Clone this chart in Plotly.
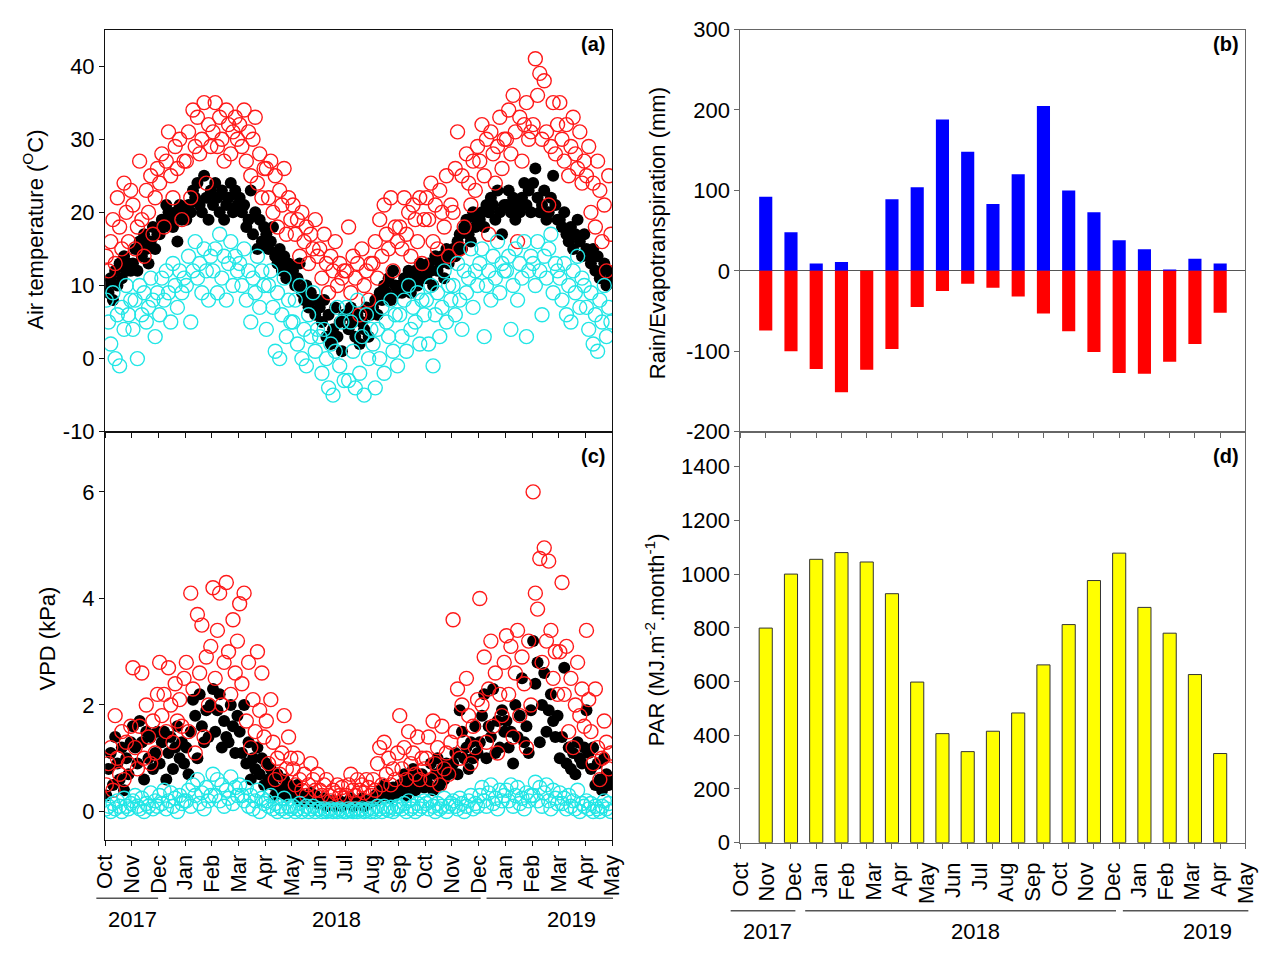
import plotly.graph_objects as go

W, H = 1278, 956
FONT = "Liberation Sans, Arial, sans-serif"

MONTHS = ["Oct", "Nov", "Dec", "Jan", "Feb", "Mar", "Apr", "May", "Jun", "Jul",
          "Aug", "Sep", "Oct", "Nov", "Dec", "Jan", "Feb", "Mar", "Apr", "May"]
YEARS = ["2017", "2018", "2019"]

# ---- Panel (a): air temperature (deg C), 12 readings per month, Oct 2017 .. Apr 2019
TMAX = [
    [14, 12, 16, 19, 13, 22, 18, 15, 24, 20, 16, 23],
    [21, 15, 18, 27, 19, 14, 23, 20, 25, 17, 22, 26],
    [24, 28, 18, 27, 31, 25, 22, 29, 26, 30, 19, 27],
    [27, 31, 22, 34, 29, 33, 28, 30, 35, 24, 32, 29],
    [31, 35, 29, 33, 30, 27, 34, 32, 28, 31, 33, 30],
    [32, 29, 34, 27, 31, 25, 30, 33, 24, 28, 22, 26],
    [26, 22, 27, 20, 25, 18, 23, 21, 26, 17, 22, 19],
    [21, 17, 19, 14, 20, 16, 18, 13, 17, 15, 19, 14],
    [15, 11, 17, 13, 9, 14, 12, 16, 10, 13, 11, 12],
    [12, 18, 9, 14, 11, 13, 6, 15, 10, 12, 8, 13],
    [13, 16, 11, 19, 14, 21, 17, 15, 22, 12, 18, 16],
    [18, 15, 22, 17, 20, 14, 21, 19, 16, 22, 13, 19],
    [22, 19, 24, 16, 21, 15, 23, 20, 18, 25, 14, 21],
    [20, 26, 31, 15, 25, 18, 28, 24, 21, 27, 23, 29],
    [27, 32, 25, 30, 17, 31, 28, 24, 29, 33, 26, 30],
    [30, 34, 28, 36, 31, 16, 33, 27, 32, 35, 30, 31],
    [32, 41, 36, 39, 30, 38, 31, 21, 29, 35, 28, 32],
    [35, 30, 27, 32, 25, 29, 33, 28, 26, 31, 24, 27],
    [25, 29, 20, 24, 18, 27, 23, 16, 21, 12, 25, 17],
]
TMEAN = [
    [10, 9, 11, 8, 12, 10, 13, 11, 14, 12, 13, 12],
    [13, 15, 12, 16, 14, 17, 15, 13, 16, 18, 15, 17],
    [17, 19, 18, 21, 20, 19, 18, 20, 16, 21, 19, 20],
    [19, 21, 20, 23, 22, 24, 21, 20, 25, 22, 19, 23],
    [21, 24, 22, 20, 23, 19, 21, 22, 24, 20, 23, 21],
    [22, 20, 21, 18, 19, 23, 17, 20, 15, 19, 16, 18],
    [17, 15, 16, 18, 14, 13, 15, 12, 14, 11, 13, 12],
    [12, 10, 11, 13, 9, 8, 10, 7, 9, 8, 6, 8],
    [7, 5, 8, 3, 6, 2, 4, 7, 3, 5, 1, 6],
    [6, 4, 7, 5, 3, 6, 2, 5, 4, 7, 3, 6],
    [7, 8, 6, 9, 8, 10, 9, 11, 8, 12, 10, 9],
    [10, 9, 11, 10, 12, 9, 11, 12, 10, 13, 11, 12],
    [11, 13, 12, 10, 14, 12, 13, 14, 11, 15, 13, 14],
    [15, 14, 16, 17, 15, 18, 19, 17, 16, 20, 18, 19],
    [19, 20, 18, 21, 20, 22, 21, 19, 23, 20, 17, 21],
    [21, 23, 20, 22, 19, 21, 20, 22, 24, 21, 23, 20],
    [24, 26, 22, 20, 21, 23, 19, 20, 22, 25, 21, 19],
    [19, 18, 20, 17, 16, 18, 15, 17, 19, 16, 14, 17],
    [15, 14, 13, 15, 12, 14, 11, 12, 13, 10, 12, 11],
]
TMIN = [
    [8, 5, 2, 9, 0, 6, -1, 7, 4, 10, 6, 8],
    [4, 8, 0, 10, 6, 9, 5, 7, 11, 8, 3, 9],
    [6, 11, 8, 12, 9, 5, 13, 10, 7, 12, 9, 11],
    [10, 14, 5, 12, 16, 11, 13, 9, 15, 12, 8, 14],
    [12, 15, 9, 17, 11, 14, 8, 13, 16, 10, 14, 12],
    [13, 10, 15, 8, 12, 5, 11, 9, 14, 7, 12, 10],
    [4, 10, 12, 7, 1, 9, 0, 6, 11, 3, 8, 5],
    [5, 8, 2, 10, 0, 4, -1, 6, 3, 9, 1, 4],
    [3, -2, 4, 0, -4, 2, -5, 1, 7, -1, 5, -3],
    [7, -3, 5, 1, -4, 8, -2, 3, -5, 6, 0, 4],
    [2, -4, 4, 0, 7, -2, 5, 3, 8, 1, 6, -1],
    [6, 3, 8, 1, 10, 4, 7, 5, 9, 2, 8, 6],
    [8, 2, 10, -1, 6, 9, 3, 7, 12, 5, 10, 8],
    [10, 6, 13, 8, 4, 12, 9, 11, 15, 7, 12, 10],
    [13, 15, 3, 10, 12, 8, 14, 11, 16, 9, 13, 12],
    [12, 14, 4, 10, 15, 8, 13, 11, 16, 3, 12, 14],
    [13, 10, 16, 12, 6, 14, 11, 15, 17, 9, 13, 12],
    [11, 8, 13, 6, 10, 5, 12, 9, 14, 7, 11, 10],
    [7, 4, 9, 2, 6, 1, 8, 5, 10, 3, 7, 5],
]

# ---- Panel (c): VPD (kPa), 12 readings per month
VPDMAX = [
    [0.5, 0.9, 1.2, 0.4, 1.8, 1.0, 0.7, 1.5, 0.6, 1.3, 0.9, 1.6],
    [2.7, 1.2, 0.8, 1.6, 2.6, 1.0, 2.0, 1.4, 0.9, 1.7, 1.1, 2.2],
    [2.8, 1.8, 2.2, 1.5, 2.7, 2.0, 1.3, 2.4, 1.7, 2.1, 1.6, 2.5],
    [2.8, 1.5, 4.1, 2.3, 1.1, 3.7, 2.6, 3.5, 1.4, 2.9, 2.0, 3.1],
    [4.2, 2.5, 3.4, 4.1, 2.0, 2.8, 4.3, 3.0, 2.2, 3.6, 2.6, 3.2],
    [3.9, 2.4, 4.1, 1.7, 2.8, 1.2, 2.1, 1.5, 3.0, 1.9, 2.6, 1.4],
    [1.7, 0.9, 2.1, 1.3, 0.6, 1.0, 0.7, 1.1, 1.8, 0.8, 1.4, 1.0],
    [0.8, 0.5, 1.0, 0.6, 0.4, 0.7, 0.3, 0.5, 0.9, 0.6, 0.4, 0.7],
    [0.4, 0.3, 0.5, 0.6, 0.3, 0.2, 0.4, 0.35, 0.5, 0.3, 0.45, 0.25],
    [0.3, 0.5, 0.7, 0.4, 0.3, 0.6, 0.4, 0.5, 0.35, 0.6, 0.45, 0.3],
    [0.6, 0.4, 0.9, 1.2, 0.5, 1.3, 0.7, 1.0, 0.5, 0.8, 0.6, 1.1],
    [1.8, 0.8, 1.2, 0.6, 1.5, 0.9, 1.1, 0.7, 1.4, 0.6, 1.0, 0.8],
    [1.0, 1.4, 0.6, 1.7, 0.9, 1.2, 0.5, 1.6, 0.8, 1.1, 0.7, 1.3],
    [3.6, 1.5, 2.3, 1.0, 2.0, 1.3, 2.5, 1.8, 0.9, 1.6, 1.2, 2.1],
    [4.0, 2.0, 2.9, 1.3, 2.3, 3.2, 1.6, 2.6, 1.1, 2.2, 1.8, 2.8],
    [3.3, 2.2, 3.1, 1.4, 2.6, 3.4, 1.8, 2.9, 2.4, 1.2, 3.2, 2.0],
    [6.0, 4.1, 3.8, 4.75, 2.8, 4.95, 3.2, 4.7, 3.4, 2.5, 3.0, 2.2],
    [3.0, 4.3, 2.2, 3.1, 1.5, 2.5, 1.2, 2.0, 2.8, 1.8, 2.3, 1.6],
    [3.4, 2.1, 1.5, 0.9, 2.3, 1.2, 0.6, 1.0, 1.7, 1.3, 0.8, 1.1],
]
VPDMEAN = [
    [0.3, 0.8, 1.1, 0.5, 1.4, 0.9, 0.6, 1.2, 0.4, 1.0, 0.7, 1.3],
    [1.6, 1.2, 0.9, 1.7, 1.3, 0.6, 1.5, 1.0, 1.4, 0.8, 1.1, 1.5],
    [0.9, 1.3, 1.5, 0.6, 1.1, 1.4, 0.8, 1.2, 1.6, 1.0, 1.3, 0.9],
    [1.2, 0.7, 1.5, 2.1, 1.8, 1.0, 2.2, 1.6, 1.3, 1.9, 1.4, 2.0],
    [2.3, 1.5, 1.9, 2.2, 1.2, 1.7, 1.4, 1.3, 2.0, 1.6, 1.1, 1.8],
    [1.5, 1.1, 2.0, 0.9, 1.3, 0.6, 1.0, 0.8, 1.2, 0.7, 1.0, 0.5],
    [0.9, 0.6, 0.8, 0.5, 0.3, 0.7, 0.4, 0.4, 0.6, 0.3, 0.5, 0.4],
    [0.4, 0.3, 0.5, 0.2, 0.3, 0.2, 0.25, 0.2, 0.35, 0.2, 0.3, 0.15],
    [0.2, 0.15, 0.25, 0.1, 0.2, 0.15, 0.2, 0.1, 0.15, 0.2, 0.1, 0.15],
    [0.15, 0.2, 0.25, 0.1, 0.2, 0.15, 0.2, 0.25, 0.1, 0.2, 0.15, 0.2],
    [0.2, 0.3, 0.25, 0.4, 0.3, 0.5, 0.35, 0.4, 0.25, 0.45, 0.3, 0.4],
    [0.5, 0.4, 0.7, 0.3, 0.6, 0.5, 0.8, 0.4, 0.6, 0.5, 0.7, 0.45],
    [0.6, 0.5, 0.9, 0.4, 0.7, 1.0, 0.5, 0.8, 0.6, 0.9, 0.7, 0.8],
    [0.9, 1.1, 0.7, 1.9, 1.5, 1.0, 1.2, 0.8, 1.3, 1.0, 1.6, 1.1],
    [1.3, 1.8, 2.2, 1.0, 1.6, 1.4, 2.3, 1.1, 1.7, 1.2, 1.9, 1.5],
    [1.7, 1.2, 1.5, 0.9, 2.0, 1.4, 1.8, 2.5, 1.3, 1.6, 1.1, 1.9],
    [3.2, 2.4, 2.8, 1.3, 2.0, 2.6, 1.5, 1.9, 2.2, 1.7, 1.4, 1.8],
    [1.0, 1.4, 2.7, 0.9, 1.2, 0.8, 1.1, 0.7, 1.3, 1.0, 0.9, 1.2],
    [1.9, 1.1, 0.8, 1.2, 0.5, 0.9, 0.6, 0.4, 1.0, 0.7, 0.5, 0.6],
]
VPDMIN = [
    [0.05, 0.1, 0.0, 0.15, 0.05, 0.2, 0.1, 0.0, 0.25, 0.1, 0.05, 0.15],
    [0.2, 0.3, 0.1, 0.05, 0.25, 0.0, 0.15, 0.1, 0.35, 0.05, 0.2, 0.1],
    [0.3, 0.15, 0.4, 0.05, 0.2, 0.35, 0.1, 0.25, 0.0, 0.3, 0.15, 0.2],
    [0.2, 0.4, 0.1, 0.5, 0.3, 0.6, 0.15, 0.35, 0.05, 0.45, 0.2, 0.3],
    [0.7, 0.3, 0.6, 0.2, 0.5, 0.1, 0.4, 0.25, 0.65, 0.15, 0.45, 0.3],
    [0.5, 0.3, 0.2, 0.45, 0.1, 0.3, 0.05, 0.2, 0.4, 0.0, 0.25, 0.15],
    [0.2, 0.1, 0.3, 0.05, 0.15, 0.0, 0.1, 0.05, 0.25, 0.0, 0.1, 0.05],
    [0.1, 0.0, 0.05, 0.15, 0.0, 0.05, 0.1, 0.0, 0.05, 0.1, 0.0, 0.05],
    [0.05, 0.0, 0.05, 0.0, 0.02, 0.05, 0.0, 0.03, 0.0, 0.05, 0.02, 0.0],
    [0.0, 0.05, 0.02, 0.0, 0.05, 0.0, 0.03, 0.05, 0.0, 0.02, 0.05, 0.0],
    [0.05, 0.0, 0.1, 0.05, 0.0, 0.1, 0.05, 0.02, 0.08, 0.0, 0.05, 0.1],
    [0.1, 0.05, 0.15, 0.0, 0.2, 0.05, 0.1, 0.0, 0.15, 0.05, 0.1, 0.2],
    [0.15, 0.05, 0.2, 0.1, 0.0, 0.15, 0.05, 0.1, 0.25, 0.0, 0.1, 0.15],
    [0.2, 0.1, 0.05, 0.25, 0.15, 0.0, 0.1, 0.2, 0.3, 0.05, 0.15, 0.1],
    [0.3, 0.45, 0.2, 0.1, 0.35, 0.5, 0.15, 0.25, 0.05, 0.4, 0.2, 0.3],
    [0.4, 0.2, 0.5, 0.1, 0.3, 0.45, 0.15, 0.25, 0.05, 0.35, 0.2, 0.3],
    [0.3, 0.55, 0.2, 0.45, 0.1, 0.35, 0.5, 0.2, 0.05, 0.4, 0.25, 0.15],
    [0.35, 0.15, 0.25, 0.05, 0.3, 0.1, 0.2, 0.05, 0.4, 0.0, 0.15, 0.1],
    [0.2, 0.05, 0.15, 0.0, 0.1, 0.05, 0.0, 0.1, 0.2, 0.05, 0.15, 0.0],
]

# ---- Panels (b) and (d): monthly bars, Nov 2017 .. May 2019 (positions 1..19)
BAR_POS = list(range(1, 20))
RAIN = [92, 48, 9, 11, 0, 89, 104, 188, 148, 83, 120, 205, 100, 73, 38, 27, 1, 15, 9]
ET = [-74, -100, -122, -151, -123, -97, -45, -25, -16, -21, -32, -53, -75, -101,
      -127, -128, -113, -91, -52]
PAR = [799, 1000, 1055, 1080, 1045, 927, 598, 406, 339, 415, 483, 662, 812, 976,
       1078, 876, 780, 626, 332]

# tick labels (hyphen minus, as in the original figure)
TA_VALS = [-10, 0, 10, 20, 30, 40]
TB_VALS = [-200, -100, 0, 100, 200, 300]
TC_VALS = [0, 2, 4, 6]
TD_VALS = [0, 200, 400, 600, 800, 1000, 1200, 1400]


def px(x):
    return x / W


def py(y):
    return 1 - y / H


def monthly_xy(monthly):
    xs, ys = [], []
    for m, vals in enumerate(monthly):
        n = len(vals)
        for k, v in enumerate(vals):
            xs.append(m + (k + 0.5) / n)
            ys.append(v)
    return xs, ys


RED = "#ff1a1a"
CYAN = "#22e6e6"

fig = go.Figure()


def add_scatter_panel(xa, ya, mean, mx, mn):
    x, y = monthly_xy(mean)
    fig.add_trace(go.Scatter(x=x, y=y, mode="markers", xaxis=xa, yaxis=ya,
                             marker=dict(symbol="circle", size=12, color="black"),
                             showlegend=False, hoverinfo="skip"))
    x, y = monthly_xy(mx)
    fig.add_trace(go.Scatter(x=x, y=y, mode="markers", xaxis=xa, yaxis=ya,
                             marker=dict(symbol="circle-open", size=14, color=RED,
                                         line=dict(width=1.4, color=RED)),
                             showlegend=False, hoverinfo="skip"))
    x, y = monthly_xy(mn)
    fig.add_trace(go.Scatter(x=x, y=y, mode="markers", xaxis=xa, yaxis=ya,
                             marker=dict(symbol="circle-open", size=14, color=CYAN,
                                         line=dict(width=1.4, color=CYAN)),
                             showlegend=False, hoverinfo="skip"))


add_scatter_panel("x", "y", TMEAN, TMAX, TMIN)
add_scatter_panel("x3", "y3", VPDMEAN, VPDMAX, VPDMIN)

fig.add_trace(go.Bar(x=BAR_POS, y=RAIN, xaxis="x2", yaxis="y2", width=0.52,
                     marker=dict(color="#0000ff", line=dict(width=0)),
                     showlegend=False, hoverinfo="skip"))
fig.add_trace(go.Bar(x=BAR_POS, y=ET, xaxis="x2", yaxis="y2", width=0.52,
                     marker=dict(color="#ff0000", line=dict(width=0)),
                     showlegend=False, hoverinfo="skip"))
fig.add_trace(go.Bar(x=BAR_POS, y=PAR, xaxis="x4", yaxis="y4", width=0.52,
                     marker=dict(color="#ffff00", line=dict(width=1, color="#333333")),
                     showlegend=False, hoverinfo="skip"))
# carrier for the month labels of panel (d)
fig.add_trace(go.Scatter(x=[None], y=[None], xaxis="x5", yaxis="y4",
                         showlegend=False, hoverinfo="skip"))

fig.update_layout(barmode="overlay")

LEFT_A, RIGHT_A = 94, 611
LEFT_B, RIGHT_B = 742, 1257
TOP, MID, BOT_C, BOT_D = 18, 431, 850, 853

tickfont = dict(family=FONT, size=22, color="black")


def xaxis_common(dom, color, rng, tickvals, ticktext=None, anchor=None):
    d = dict(domain=[px(dom[0]), px(dom[1])], range=rng, showgrid=False, zeroline=False,
             showline=True, linecolor=color, linewidth=1.3, mirror=True,
             ticks="outside", ticklen=5, tickcolor=color, tickwidth=1.2,
             tickvals=tickvals, anchor=anchor, tickfont=tickfont)
    if ticktext is None:
        d["showticklabels"] = False
    else:
        d["ticktext"] = ticktext
        d["tickangle"] = -90
    return d


def yaxis_common(dom, color, rng, tickvals, anchor, zeroline=False):
    return dict(domain=[py(dom[1]), py(dom[0])], range=rng, showgrid=False,
                zeroline=zeroline, zerolinecolor="#555555", zerolinewidth=1.2,
                showline=True, linecolor=color, linewidth=1.3, mirror=True,
                ticks="outside", ticklen=5, tickcolor=color, tickwidth=1.2,
                tickvals=tickvals, ticktext=[str(v) for v in tickvals],
                anchor=anchor, tickfont=tickfont)


A_COL = "#111111"
B_COL = "#666666"

fig.update_layout(
    width=W, height=H, margin=dict(l=0, r=0, t=0, b=0),
    paper_bgcolor="white", plot_bgcolor="white",
    font=dict(family=FONT, size=22, color="black"),
    xaxis=xaxis_common((LEFT_A, RIGHT_A), A_COL, [0, 19], list(range(20)), anchor="y"),
    yaxis=yaxis_common((TOP, MID), A_COL, [-10, 45], TA_VALS, "x"),
    xaxis2=xaxis_common((LEFT_B, RIGHT_B), B_COL, [0, 20], list(range(21)), anchor="y2"),
    yaxis2=yaxis_common((TOP, MID), B_COL, [-200, 300], TB_VALS, "x2", zeroline=True),
    xaxis3=xaxis_common((LEFT_A, RIGHT_A), A_COL, [0, 19], list(range(20)), MONTHS, anchor="y3"),
    yaxis3=yaxis_common((MID, BOT_C), A_COL, [-0.53, 7.13], TC_VALS, "x3"),
    xaxis4=xaxis_common((LEFT_B, RIGHT_B), B_COL, [0, 20], list(range(21)), anchor="y4"),
    yaxis4=yaxis_common((MID, BOT_D), B_COL, [0, 1530], TD_VALS, "x4"),
    xaxis5=dict(overlaying="x4", anchor="y4", side="bottom", range=[0, 20],
                showgrid=False, zeroline=False, showline=False,
                ticks="outside", ticklen=10, tickcolor="rgba(0,0,0,0)",
                tickvals=[i * 20 / 19 for i in range(20)], ticktext=MONTHS,
                tickangle=-90, tickfont=tickfont),
)

annotations = []
# axis titles
for text, x, y in [
    ("Air temperature (<sup>O</sup>C)", 21, 224),
    ("VPD (kPa)", 35, 643),
    ("Rain/Evapotranspiration (mm)", 657, 227),
    ("PAR (MJ.m<sup>-2</sup>.month<sup>-1</sup>)", 655, 645),
]:
    annotations.append(dict(text=text, x=px(x), y=py(y), xref="paper", yref="paper",
                            xanchor="center", yanchor="middle", textangle=-90,
                            showarrow=False, font=dict(family=FONT, size=22, color="black")))
# panel letters
for text, x, y in [("(a)", 606, 33), ("(b)", 1252, 33), ("(c)", 606, 456), ("(d)", 1252, 456)]:
    annotations.append(dict(text="<b>%s</b>" % text, x=px(x), y=py(y), xref="paper",
                            yref="paper", xanchor="right", yanchor="middle",
                            showarrow=False, font=dict(family=FONT, size=20, color="black")))
# year labels
for text, x, y in [(YEARS[0], 122, 932), (YEARS[1], 330, 932), (YEARS[2], 570, 932),
                   (YEARS[0], 770, 944), (YEARS[1], 982, 944), (YEARS[2], 1218, 944)]:
    annotations.append(dict(text=text, x=px(x), y=py(y), xref="paper", yref="paper",
                            xanchor="center", yanchor="middle", showarrow=False,
                            font=dict(family=FONT, size=22, color="black")))

shapes = []
for x0, x1, y in [(85, 148, 910), (159, 477, 910), (483, 612, 910),
                  (732, 798, 923), (808, 1125, 923), (1132, 1260, 923)]:
    shapes.append(dict(type="line", xref="paper", yref="paper", x0=px(x0), x1=px(x1),
                       y0=py(y), y1=py(y), line=dict(color="#555555", width=1.5)))

fig.update_layout(annotations=annotations, shapes=shapes)

fig.write_html("out.html")
